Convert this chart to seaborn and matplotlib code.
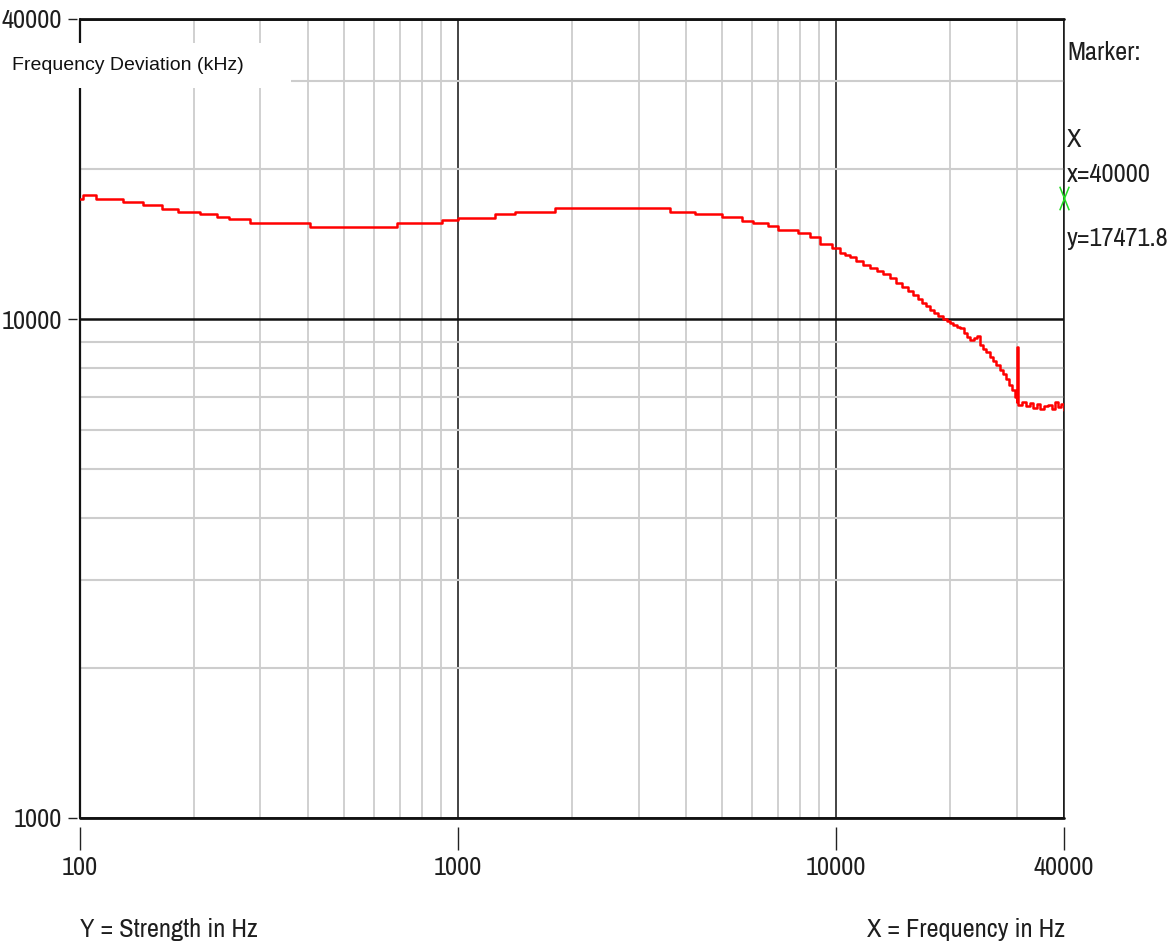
import matplotlib
matplotlib.use("Agg")
import matplotlib.pyplot as plt
from matplotlib import font_manager as fm
from matplotlib.patches import Rectangle
from matplotlib.path import Path
from matplotlib.ticker import FixedLocator, LogLocator, NullFormatter, FixedFormatter
import seaborn as sns
import pandas as pd

# Deviation curve: frequency (Hz) where each level starts, and the level
freq_hz = [100, 101.8, 110.2, 129.9, 146.8, 164.8, 181.6, 207.6, 230.2, 247.7,
           281.6, 405.7, 688.8, 906.1, 998.9, 1251, 1413, 1803, 3631, 4228,
           4984, 5628, 6018, 6595, 7008, 7918, 8516, 9051, 9736, 10220,
           10540, 10860, 11270, 11760, 12270, 12810, 13280, 13860, 14380,
           14910, 15460, 15940, 16440, 16840, 17260, 17680, 18120, 18560,
           19130, 19610, 19970, 20340, 20840, 21230, 21760, 22150, 22560,
           23110, 23540, 23970, 24410, 24860, 25480, 25950, 26420, 27080,
           27580, 28080, 28600, 29130, 29670, 30030, 30100, 30200, 30950,
           31720, 32500, 33110, 33920, 34540, 35400, 36260, 37160, 37850,
           38540, 39250, 40000]
deviation = [17430, 17750, 17430, 17190, 16950, 16640, 16410, 16260, 16040,
             15890, 15600, 15310, 15600, 15820, 15960, 16260, 16410, 16720,
             16410, 16260, 16040, 15740, 15600, 15390, 15100, 14890, 14620,
             14160, 13900, 13580, 13460, 13330, 13090, 12850, 12670, 12500,
             12320, 12100, 11820, 11610, 11400, 11190, 10980, 10780, 10630,
             10440, 10290, 10150, 10010, 9920, 9830, 9740, 9650, 9610, 9390,
             9210, 9090, 9170, 9260, 8880, 8720, 8600, 8400, 8250, 8100, 7910,
             7770, 7590, 7380, 7220, 6990, 6830, 8800, 6730, 6830, 6700, 6800,
             6640, 6770, 6610, 6700, 6730, 6610, 6830, 6670, 6770, 6580]

x_ticks = [100, 1000, 10000, 40000]
x_tick_labels = ["100", "1000", "10000", "40000"]
y_ticks = [1000, 10000, 40000]
y_tick_labels = ["1000", "10000", "40000"]

marker_x = 40000
marker_y = 17471.8

df = pd.DataFrame({"freq": freq_hz, "dev": deviation})

sns.set_style("white")

# Pick a narrow sans for the instrument-style labels
installed = {f.name for f in fm.fontManager.ttflist}
narrow_candidates = ["Liberation Sans Narrow", "Arial Narrow", "Archivo Narrow",
                     "PT Sans Narrow", "Pragati Narrow", "Roboto Condensed",
                     "IBM Plex Sans Condensed"]
NARROW = [n for n in narrow_candidates if n in installed][:1] + ["DejaVu Sans"]
plt.rcParams["font.family"] = NARROW

W, H = 1172, 946
fig = plt.figure(figsize=(W / 100, H / 100), dpi=100)
ax = fig.add_axes([80 / W, 1 - 818 / H, 984 / W, 799 / H])

sns.lineplot(data=df, x="freq", y="dev", ax=ax, color="#ff0000", lw=1.8,
             drawstyle="steps-post", sort=False, estimator=None, zorder=3)
ax.set_xlabel("")
ax.set_ylabel("")

ax.set_xscale("log")
ax.set_yscale("log")
ax.set_xlim(x_ticks[0], x_ticks[-1])
ax.set_ylim(y_ticks[0], y_ticks[-1])

# Ticks and labels
ax.xaxis.set_major_locator(FixedLocator(x_ticks))
ax.xaxis.set_major_formatter(FixedFormatter(x_tick_labels))
ax.yaxis.set_major_locator(FixedLocator(y_ticks))
ax.yaxis.set_major_formatter(FixedFormatter(y_tick_labels))
ax.xaxis.set_minor_locator(LogLocator(base=10, subs=range(2, 10)))
ax.yaxis.set_minor_locator(LogLocator(base=10, subs=range(2, 10)))
ax.xaxis.set_minor_formatter(NullFormatter())
ax.yaxis.set_minor_formatter(NullFormatter())

# Spines pushed outward so the tick marks float off the frame
for side in ["left", "right", "top", "bottom"]:
    ax.spines[side].set_color("none")
ax.spines["bottom"].set_position(("outward", 6.5))
ax.spines["left"].set_position(("outward", 2.2))

ax.tick_params(axis="x", which="major", bottom=True, top=False,
               direction="out", length=16.5, width=1.0, color="#222222",
               pad=4.5, labelsize=19, labelcolor="#1e1e1e")
ax.tick_params(axis="y", which="major", left=True, right=False,
               direction="out", length=6.5, width=1.0, color="#222222",
               pad=4.3, labelsize=19, labelcolor="#1e1e1e")
ax.tick_params(which="minor", length=0)

# Grid
ax.set_axisbelow(True)
ax.xaxis.grid(True, which="minor", color="#cdcdcd", lw=1.3)
ax.yaxis.grid(True, which="minor", color="#cdcdcd", lw=1.5)
ax.xaxis.grid(True, which="major", color="#111111", lw=1.1)
ax.yaxis.grid(True, which="major", color="#111111", lw=1.8)

# Frame
ax.axhline(y_ticks[0], color="#111111", lw=2.0, zorder=2.5, clip_on=False)
ax.axhline(y_ticks[-1], color="#111111", lw=2.0, zorder=2.5, clip_on=False)
ax.axvline(x_ticks[0], color="#111111", lw=1.6, zorder=2.5, clip_on=False)
ax.axvline(x_ticks[-1], color="#111111", lw=1.1, zorder=2.5, clip_on=False)

# Marker readout
x_shape = Path([(-0.4, -1), (0.4, 1), (-0.4, 1), (0.4, -1)],
               [Path.MOVETO, Path.LINETO, Path.MOVETO, Path.LINETO])
ax.plot([marker_x], [marker_y], marker=x_shape, markersize=17,
        markerfacecolor="none", markeredgecolor="#22dd22",
        markeredgewidth=1.1, linestyle="none", clip_on=False, zorder=5)

txt_kw = dict(color="#1e1e1e", fontsize=19, family=NARROW)
fig.text(1067 / W, 1 - 60 / H, "Marker:", va="baseline", **txt_kw)
fig.text(1067 / W, 1 - 147 / H, "X", va="baseline", **txt_kw)
fig.text(1067 / W, 1 - 182 / H, f"x={marker_x:g}", va="baseline", **txt_kw)
fig.text(1067 / W, 1 - 246 / H, f"y={marker_y}", va="baseline", **txt_kw)

# Axis captions
fig.text(80 / W, 1 - 937 / H, "Y = Strength in Hz", va="baseline", **txt_kw)
fig.text(1065 / W, 1 - 937 / H, "X = Frequency in Hz", ha="right",
         va="baseline", **txt_kw)

# Title box over the upper-left corner
fig.add_artist(Rectangle((0, 1 - 88 / H), 291 / W, 45 / H,
                         transform=fig.transFigure, facecolor="white",
                         edgecolor="none", zorder=10))
fig.text(12 / W, 1 - 65 / H, "Frequency Deviation (kHz)", va="center",
         ha="left", fontsize=14, color="#111111",
         family=["Liberation Sans", "DejaVu Sans"], zorder=11)

fig.savefig("out.png", dpi=100, facecolor="white")
